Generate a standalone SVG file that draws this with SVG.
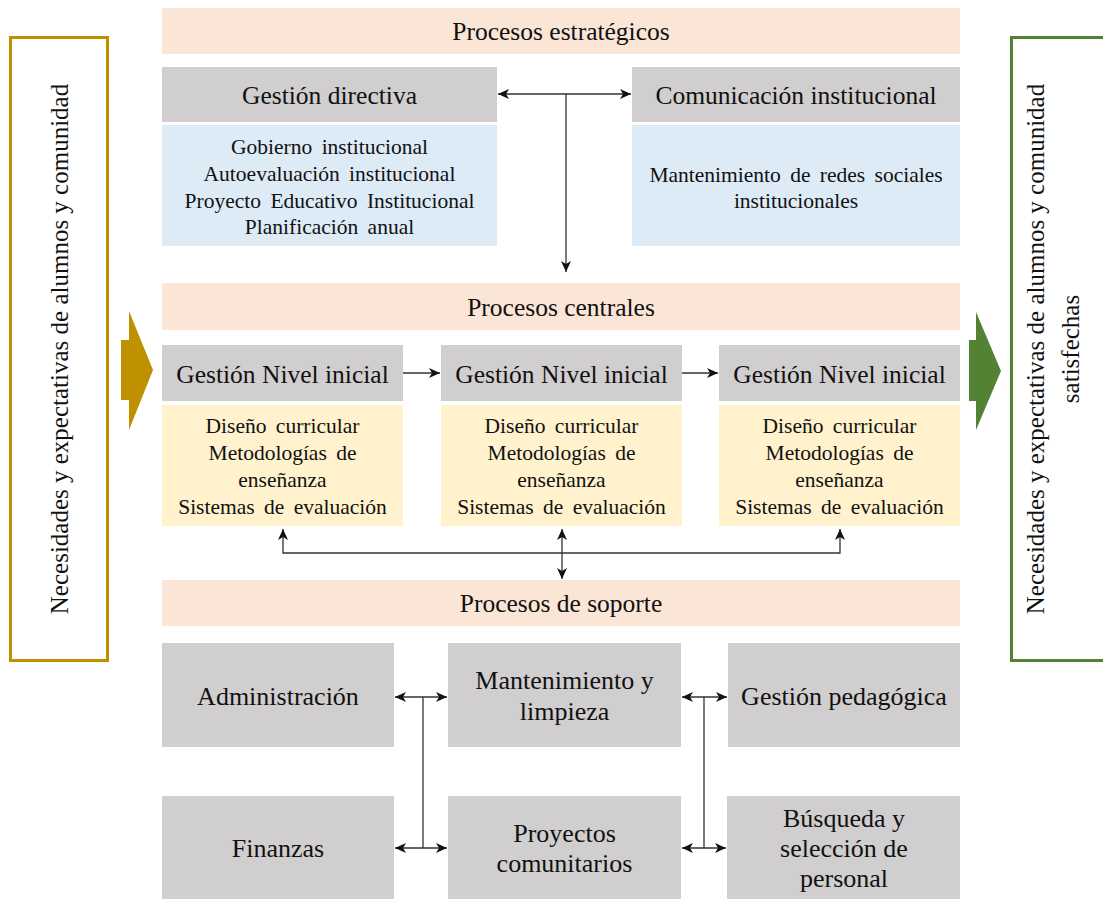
<svg xmlns="http://www.w3.org/2000/svg" width="1103" height="899" viewBox="0 0 1103 899">
<style>
text{font-family:"Liberation Serif","Times New Roman",serif;fill:#111;text-anchor:middle}
.h{font-size:25.5px}
.b{font-size:21.5px;word-spacing:4px}
.s{font-size:26px}
.v{font-size:25px}
.peach{fill:#FBE5D6}
.gray{fill:#D0CECE}
.blue{fill:#DDEBF7}
.yel{fill:#FFF2CC}
.con{fill:none;stroke:#333;stroke-width:1.3}
</style>
<defs>
<marker id="ah" markerUnits="userSpaceOnUse" markerWidth="12" markerHeight="12" viewBox="0 0 12 10" refX="11" refY="5" orient="auto-start-reverse">
<path d="M0,0 L11,5 L0,10 L3,5 z" fill="#111"/>
</marker>
</defs>

<g id="entrada">
<rect x="10.5" y="37.5" width="97" height="623" fill="none" stroke="#BF9000" stroke-width="3"/>
<text class="v" transform="translate(68,349) rotate(-90)">Necesidades y expectativas de alumnos y comunidad</text>
<polygon points="121,340 129,340 129,311 153,370 129,430 129,400 121,400" fill="#BF9000"/>
</g>

<g id="salida">
<rect x="1011.5" y="37.5" width="100" height="623" fill="none" stroke="#548235" stroke-width="3"/>
<text class="v" transform="translate(1044,349) rotate(-90)">Necesidades y expectativas de alumnos y comunidad</text>
<text class="v" transform="translate(1079,349) rotate(-90)">satisfechas</text>
<polygon points="969,340 976,340 976,312 1001,371 976,430 976,401 969,401" fill="#548235"/>
</g>

<g id="procesos-estrategicos">
<rect class="peach" x="162" y="8" width="798" height="46"/>
<text class="h" x="561" y="40">Procesos estratégicos</text>
</g>

<g id="gestion-directiva">
<rect class="gray" x="162" y="67" width="335" height="55"/>
<text class="h" x="329.5" y="104">Gestión directiva</text>
<rect class="blue" x="162" y="125" width="335" height="121"/>
<text class="b" x="329.5" y="154">Gobierno institucional</text>
<text class="b" x="329.5" y="181">Autoevaluación institucional</text>
<text class="b" x="329.5" y="208">Proyecto Educativo Institucional</text>
<text class="b" x="329.5" y="234">Planificación anual</text>
</g>

<g id="comunicacion-institucional">
<rect class="gray" x="632" y="67" width="328" height="55"/>
<text class="h" x="796" y="104">Comunicación institucional</text>
<rect class="blue" x="632" y="125" width="328" height="121"/>
<text class="b" x="796" y="182">Mantenimiento de redes sociales</text>
<text class="b" x="796" y="208">institucionales</text>
</g>

<g id="procesos-centrales">
<rect class="peach" x="162" y="283" width="798" height="47"/>
<text class="h" x="561" y="316">Procesos centrales</text>
</g>

<g id="nivel-1">
<rect class="gray" x="162" y="345" width="241" height="56"/>
<text class="h" x="282.5" y="383">Gestión Nivel inicial</text>
<rect class="yel" x="162" y="405" width="241" height="121"/>
<text class="b" x="282.5" y="433">Diseño curricular</text>
<text class="b" x="282.5" y="460">Metodologías de</text>
<text class="b" x="282.5" y="487">enseñanza</text>
<text class="b" x="282.5" y="514">Sistemas de evaluación</text>
</g>

<g id="nivel-2">
<rect class="gray" x="441" y="345" width="241" height="56"/>
<text class="h" x="561.5" y="383">Gestión Nivel inicial</text>
<rect class="yel" x="441" y="405" width="241" height="121"/>
<text class="b" x="561.5" y="433">Diseño curricular</text>
<text class="b" x="561.5" y="460">Metodologías de</text>
<text class="b" x="561.5" y="487">enseñanza</text>
<text class="b" x="561.5" y="514">Sistemas de evaluación</text>
</g>

<g id="nivel-3">
<rect class="gray" x="719" y="345" width="241" height="56"/>
<text class="h" x="839.5" y="383">Gestión Nivel inicial</text>
<rect class="yel" x="719" y="405" width="241" height="121"/>
<text class="b" x="839.5" y="433">Diseño curricular</text>
<text class="b" x="839.5" y="460">Metodologías de</text>
<text class="b" x="839.5" y="487">enseñanza</text>
<text class="b" x="839.5" y="514">Sistemas de evaluación</text>
</g>

<g id="procesos-soporte">
<rect class="peach" x="162" y="580" width="798" height="46"/>
<text class="h" x="561" y="612">Procesos de soporte</text>
</g>

<g id="administracion">
<rect class="gray" x="162" y="643" width="232" height="104"/>
<text class="s" x="278" y="705">Administración</text>
</g>
<g id="mantenimiento">
<rect class="gray" x="448" y="643" width="233" height="104"/>
<text class="s" x="564.5" y="689">Mantenimiento y</text>
<text class="s" x="564.5" y="720">limpieza</text>
</g>
<g id="gestion-pedagogica">
<rect class="gray" x="728" y="643" width="232" height="104"/>
<text class="s" x="844" y="705">Gestión pedagógica</text>
</g>
<g id="finanzas">
<rect class="gray" x="162" y="796" width="232" height="103"/>
<text class="s" x="278" y="857">Finanzas</text>
</g>
<g id="proyectos">
<rect class="gray" x="448" y="796" width="233" height="103"/>
<text class="s" x="564.5" y="842">Proyectos</text>
<text class="s" x="564.5" y="872">comunitarios</text>
</g>
<g id="busqueda">
<rect class="gray" x="727" y="796" width="233" height="103"/>
<text class="s" x="844" y="827">Búsqueda y</text>
<text class="s" x="844" y="857">selección de</text>
<text class="s" x="844" y="887">personal</text>
</g>

<g id="connectors">
<line class="con" x1="498" y1="94" x2="631" y2="94" marker-start="url(#ah)" marker-end="url(#ah)"/>
<line class="con" x1="566" y1="94" x2="566" y2="272" marker-end="url(#ah)"/>
<line class="con" x1="403" y1="373" x2="440" y2="373" marker-end="url(#ah)"/>
<line class="con" x1="682" y1="373" x2="718" y2="373" marker-end="url(#ah)"/>
<path class="con" d="M283,529 V553 H840 V529" marker-start="url(#ah)" marker-end="url(#ah)"/>
<line class="con" x1="562" y1="529" x2="562" y2="579" marker-start="url(#ah)" marker-end="url(#ah)"/>
<line class="con" x1="423" y1="697" x2="423" y2="848"/>
<line class="con" x1="395" y1="697" x2="447" y2="697" marker-start="url(#ah)" marker-end="url(#ah)"/>
<line class="con" x1="395" y1="848" x2="447" y2="848" marker-start="url(#ah)" marker-end="url(#ah)"/>
<line class="con" x1="704" y1="697" x2="704" y2="848"/>
<line class="con" x1="682" y1="697" x2="727" y2="697" marker-start="url(#ah)" marker-end="url(#ah)"/>
<line class="con" x1="682" y1="848" x2="726" y2="848" marker-start="url(#ah)" marker-end="url(#ah)"/>
</g>
</svg>
